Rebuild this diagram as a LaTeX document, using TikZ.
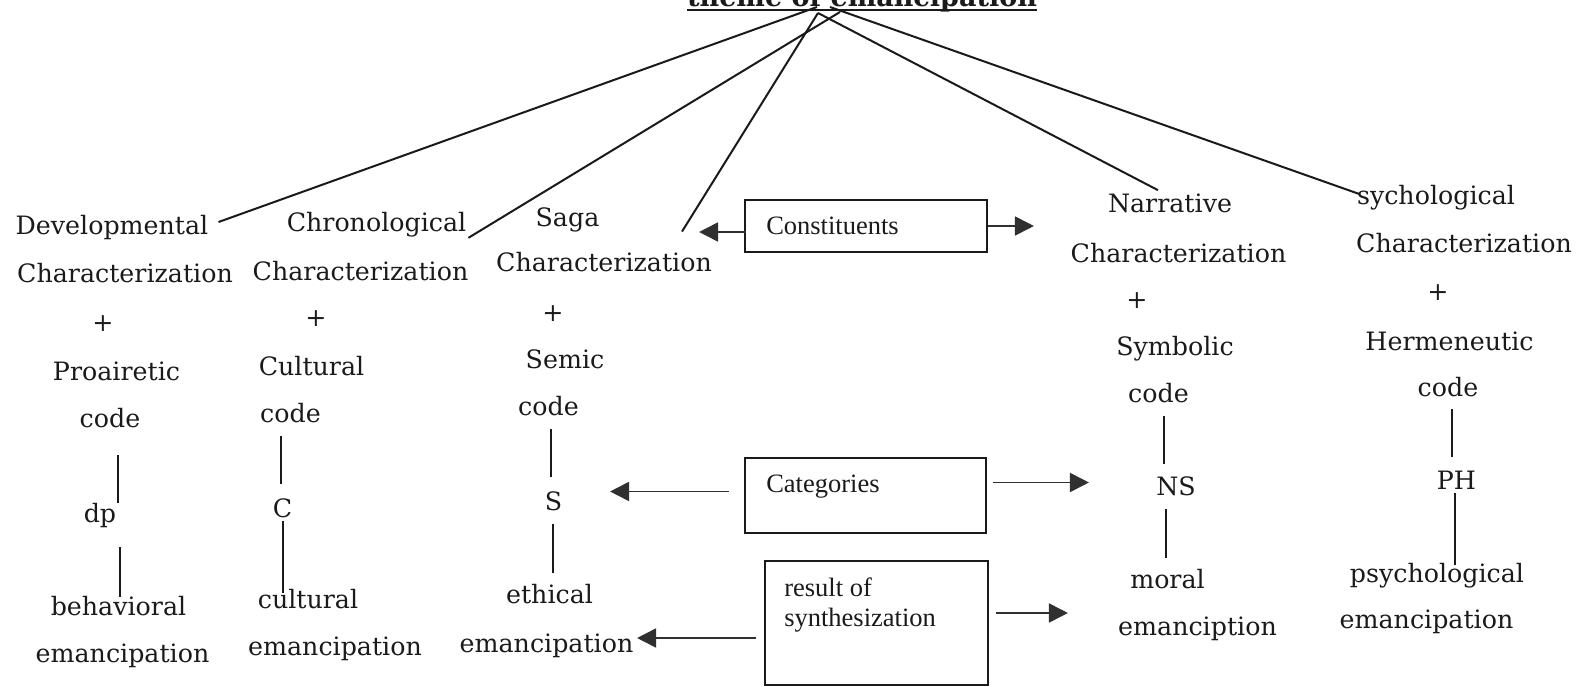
\documentclass[tikz,border=0pt]{standalone}
\usepackage{fontspec}
\usepackage{tikz}
\usetikzlibrary{calc,arrows.meta}
\newfontfamily\lblfam{DejaVu Serif}
\newfontfamily\boxfam{Liberation Serif}
\newcommand\lblfont{\lblfam\fontsize{25.3pt}{30pt}\selectfont}
\newcommand\boxfont{\boxfam\fontsize{26.5pt}{30pt}\selectfont}
\newcommand\ttlfont{\lblfam\bfseries\fontsize{27pt}{32pt}\selectfont}
\definecolor{inkc}{HTML}{1A1A1A}
\definecolor{arrc}{HTML}{303030}
\tikzset{
  lbl/.style={font=\lblfont,text=inkc,inner sep=0pt,anchor=base},
  bxt/.style={font=\boxfont,text=inkc,inner sep=0pt,anchor=base west},
  box/.style={draw=inkc,line width=1.9pt,inner sep=0pt},
  ln/.style={inkc,line width=1.8pt},
  br/.style={inkc,line width=2pt},
  ar/.style={-{Triangle[length=19pt,width=19pt]},line width=1.8pt,arrc}
}
\begin{document}
\begin{tikzpicture}[x=1pt,y=-1pt]
\useasboundingbox (0,0) rectangle (1580,687);
% heading, cut at the top edge
\node[font=\ttlfont,text=inkc,anchor=base west,inner sep=0pt] (ttl) at (687,7) {theme of emancipation};
\draw[line width=1.8pt,inkc] ($(ttl.base west)+(0,3)$) -- ($(ttl.base east)+(0,3)$);
% the five columns
\foreach \n/\x/\y/\t in {d1/112/235/Developmental,d2/125/282/Characterization,d3/103/331/+,
  d4/116.5/380/Proairetic,d5/110/427/code,d6/100/522/dp,d7/118.5/615/behavioral,d8/122.5/662/emancipation,
  c1/376.5/232/Chronological,c2/360.5/280/Characterization,c3/316/326/+,c4/311.5/375/Cultural,
  c5/290.5/422/code,c6/282.5/517/C,c7/308/608/cultural,c8/335/655/emancipation,
  s1/567.5/227/Saga,s2/604/272/Characterization,s3/553/321/+,s4/565/368/Semic,
  s5/548.5/415/code,s6/553.5/510/S,s7/549.5/603/ethical,s8/546.5/652/emancipation,
  n1/1170/213/Narrative,n2/1178.5/262/Characterization,n3/1137/308/+,n4/1175/355/Symbolic,
  n5/1158.5/402/code,n6/1176/495/NS,n7/1167.5/588/moral,n8/1197.5/635/emanciption,
  p1/1436/205/sychological,p2/1464/253/Characterization,p3/1438/301/+,p4/1449.5/350/Hermeneutic,
  p5/1448/396/code,p6/1456.5/489/PH,p7/1437/582/psychological,p8/1426.5/628/emancipation}
  {\node[lbl] (\n) at (\x,\y) {\t};}
\foreach \c/\dx/\ga/\la/\dxb/\gb/\lb in {d/18/0/48/20/20/50,c/-1.5/-14/48/0.5/3/72,
  s/-2.5/-14/48/-0.5/13/49,n/-12/-12/48/-10/13/49,p/-4.5/-13/48/-1.5/4/72}{
  \draw[ln] ($(\c6.north)+(\dx,\ga)$) -- ++(0,-\la);
  \draw[ln] ($(\c6.south)+(\dxb,\gb)$) -- ++(0,\lb);}
% branches from the heading
\coordinate (apA) at (817,7);
\coordinate (apB) at (840,12);
\coordinate (apC) at (818,13);
\coordinate (apE) at (830,7);
\draw[br] (apA) -- ($(d1.east)+(10,-6)$);
\draw[br] (apB) -- ($(c1.south east)+(2,0)$);
\draw[br] (apC) -- ($(s2.north east)+(-30,-21)$);
\draw[br] (apC) -- ($(n1.north)+(-12,-4)$);
\draw[br] (apE) -- ($(p1.west)+(3,-4)$);
% boxes in the middle
\node[box,minimum width=242pt,minimum height=52pt] (cons) at (866,226) {};
\node[bxt] (const) at ($(cons.north west)+(22,35)$) {Constituents};
\node[box,minimum width=241pt,minimum height=75pt] (cat) at (865.5,495.5) {};
\node[bxt] (catt) at ($(cat.north west)+(22,35)$) {Categories};
\node[box,minimum width=223pt,minimum height=124pt] (res) at (876.5,623) {};
\node[bxt] (res1) at ($(res.north west)+(20,36)$) {result of};
\node[bxt] (res2) at ($(res.north west)+(20,66)$) {synthesization};
\draw[ar] ($(cons.west)+(2,6)$) -- ++(-47,0);
\draw[ar] (cons.east) -- ++(46,0);
\draw[ar] ($(cat.west)+(-15,-4)$) -- ++(-119,0);
\draw[ar] ($(cat.east)+(6,-13)$) -- ++(96,0);
\draw[ar] ($(res.west)+(-8,15)$) -- ++(-119,0);
\draw[ar] ($(res.east)+(7,-10)$) -- ++(72,0);
\end{tikzpicture}
\end{document}
